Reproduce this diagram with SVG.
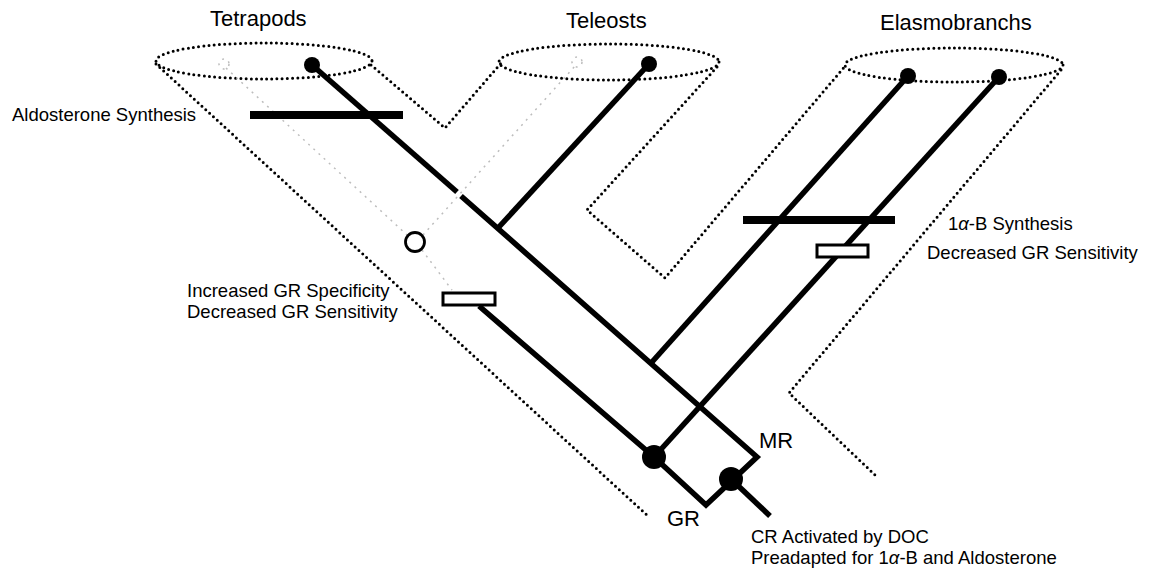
<svg xmlns="http://www.w3.org/2000/svg" width="1151" height="571" viewBox="0 0 1151 571">
<style>
.dot{fill:none;stroke:#000;stroke-width:3;stroke-dasharray:0 5.2;stroke-linecap:round;stroke-linejoin:round}
.br{fill:none;stroke:#000;stroke-width:5.5;stroke-linecap:butt;stroke-linejoin:miter}
.gr{fill:none;stroke:#bdbdbd;stroke-width:1.5;stroke-dasharray:2 5}
.bar{fill:none;stroke:#000;stroke-width:8}
.box{fill:#fff;stroke:#000;stroke-width:3}
.t{font-family:"Liberation Sans",Arial,sans-serif;fill:#000}
.big{font-size:22px}
.sm{font-size:18.5px}
</style>
<rect width="1151" height="571" fill="#fff"/>
<g id="outline">
<ellipse class="dot" cx="264" cy="61" rx="108" ry="18"/>
<ellipse class="dot" cx="609" cy="62" rx="110" ry="18"/>
<ellipse class="dot" cx="954" cy="65" rx="109" ry="17"/>
<path class="dot" d="M156,64 L649,517"/>
<path class="dot" d="M371,65 L445,128 L502,62"/>
<path class="dot" d="M717,67 L587,210 L665,278 L846,65"/>
<path class="dot" d="M1061,70 L789,393 L875,475"/>
</g>
<g id="ancestral-gr">
<circle class="gr" cx="224" cy="64" r="5"/>
<circle class="gr" cx="577" cy="62" r="5"/>
<path class="gr" d="M226,68 L407,235"/>
<path class="gr" d="M422,250 L452,290"/>
<path class="gr" d="M423,235 L575,66"/>
</g>
<g id="connectors">
<path class="br" d="M312,65 L457,192"/>
<path class="br" d="M461,196 L757,457 L706,505 L654,457 L479,306"/>
<path class="br" d="M649,64 L498,228"/>
<path class="br" d="M908,76 L652,362"/>
<path class="br" d="M999,77 L654,457"/>
<path class="br" d="M731,479 L770,516"/>
</g>
<g id="aldosterone-synthesis">
<line class="bar" x1="250" y1="115" x2="403" y2="115"/>
<text class="t sm" x="12" y="121">Aldosterone Synthesis</text>
</g>
<g id="ab-synthesis">
<line class="bar" x1="743" y1="220" x2="895" y2="220"/>
<text class="t sm" x="948" y="230">1<tspan font-style="italic">α</tspan>-B Synthesis</text>
</g>
<g id="gr-change-right">
<rect class="box" x="817" y="245" width="51" height="12"/>
<text class="t sm" x="927" y="259">Decreased GR Sensitivity</text>
</g>
<g id="gr-change-left">
<rect class="box" x="443" y="293" width="52" height="12"/>
<text class="t sm" x="187" y="297">Increased GR Specificity</text>
<text class="t sm" x="187" y="318">Decreased GR Sensitivity</text>
</g>
<g id="ancestral-node">
<circle cx="415" cy="242" r="9.5" fill="#fff" stroke="#000" stroke-width="2.8"/>
</g>
<g id="tips">
<circle cx="312" cy="65" r="8"/>
<circle cx="649" cy="64" r="8"/>
<circle cx="908" cy="76" r="8"/>
<circle cx="999" cy="77" r="8"/>
</g>
<g id="gr-node"><circle cx="654" cy="457" r="12"/></g>
<g id="cr-node"><circle cx="731" cy="479" r="12"/></g>
<g id="labels">
<text class="t big" x="210" y="26">Tetrapods</text>
<text class="t big" x="566" y="28">Teleosts</text>
<text class="t big" x="880" y="30">Elasmobranchs</text>
<text class="t big" x="759" y="448">MR</text>
<text class="t big" x="667" y="526">GR</text>
<text class="t sm" x="751" y="543">CR Activated by DOC</text>
<text class="t sm" x="751" y="564">Preadapted for 1<tspan font-style="italic">α</tspan>-B and Aldosterone</text>
</g>
</svg>
